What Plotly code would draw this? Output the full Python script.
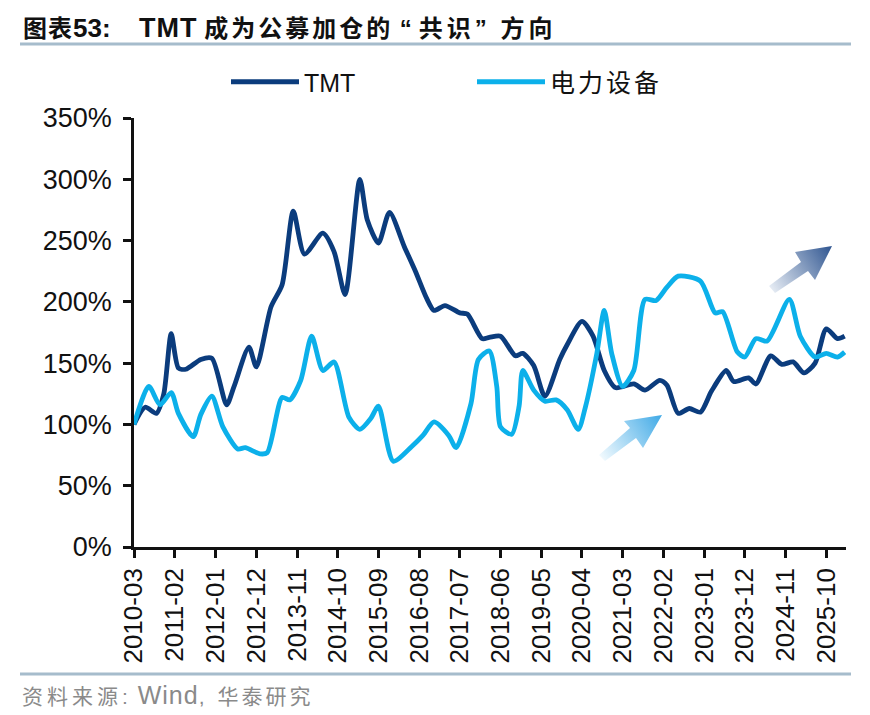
import base64
import plotly.graph_objects as go

# Relative fund holdings, indexed to 100% at 2010-03
tmt_dates = ["2010-03","2010-06","2010-09","2010-11","2011-01","2011-03","2011-05","2011-09","2011-12",
             "2012-04","2012-06","2012-10","2012-12","2013-04","2013-07","2013-10","2014-01","2014-06",
             "2014-09","2014-12","2015-04","2015-06","2015-09","2015-12","2016-04","2016-07","2016-10",
             "2016-12","2017-03","2017-07","2017-09","2018-01","2018-03","2018-06","2018-10","2018-12",
             "2019-03","2019-06","2019-10","2019-12","2020-04","2020-07","2020-10","2021-01","2021-06",
             "2021-09","2022-01","2022-03","2022-06","2022-09","2022-12","2023-03","2023-07","2023-09",
             "2024-01","2024-03","2024-07","2024-10","2025-01","2025-04","2025-07","2025-10","2026-01","2026-03"]
tmt_values = [100,114,109,125,174,146,145,153,154,
              116,131,163,147,196,214,274,239,256,
              241,206,300,267,248,273,245,225,203,
              193,197,191,190,170,171,172,156,158,
              148,123,153,165,184,172,144,130,133,
              128,136,132,109,113,110,127,144,135,
              138,133,156,149,151,142,150,178,170,172]

power_dates = ["2010-03","2010-07","2010-10","2011-01","2011-03","2011-07","2011-09","2011-12","2012-03",
               "2012-07","2012-09","2013-01","2013-03","2013-07","2013-09","2013-12","2014-03","2014-06",
               "2014-09","2015-01","2015-04","2015-07","2015-09","2016-01","2016-06","2016-09","2016-12",
               "2017-04","2017-06","2017-10","2017-12","2018-03","2018-05","2018-06","2018-09","2018-11",
               "2018-12","2019-03","2019-06","2019-09","2019-12","2020-03","2020-05","2020-08","2020-10",
               "2020-12","2021-03","2021-06","2021-09","2021-12","2022-03","2022-06","2022-12","2023-04",
               "2023-06","2023-10","2023-12","2024-03","2024-06","2024-12","2025-03","2025-07","2025-10","2026-01","2026-03"]
power_values = [100,131,116,126,109,90,108,123,98,
                80,81,76,77,122,120,136,172,144,
                151,106,96,105,115,70,82,91,102,
                91,81,117,153,160,131,98,92,115,
                144,128,119,120,112,96,115,158,193,
                158,131,144,202,201,212,221,217,191,
                192,159,155,170,168,202,172,155,158,155,159]

y_ticks = [0,50,100,150,200,250,300,350]

W, H = 870, 715
L, R, T, B = 134, 846, 118, 547
DARK, LIGHT = "#0b3c7d", "#0cb0ea"
CJK = "Noto Sans CJK SC"
SANS = "Liberation Sans"
FONT = f"{SANS}, {CJK}"


def paper_x(x):
    return (x - L) / (R - L)


def paper_y(y):
    return (B - y) / (B - T)


def spaced(text, gap, size=None):
    size_css = f";font-size:{size}px" if size else ""
    return f'<span style="letter-spacing:{gap}px{size_css}">{text}</span>'


def arrow(points, tip_color, tail_color, box):
    # Gradient arrow as an inline SVG; points[0] is the tip, points[3] the tail
    x0, y0, x1, y1 = box
    pts = " ".join(f"{x-x0},{y-y0}" for x, y in points)
    tip, tail = points[0], points[3]
    svg = (f'<svg xmlns="http://www.w3.org/2000/svg" width="{x1-x0}" height="{y1-y0}">'
           f'<defs><linearGradient id="g" gradientUnits="userSpaceOnUse" '
           f'x1="{tip[0]-x0}" y1="{tip[1]-y0}" x2="{tail[0]-x0}" y2="{tail[1]-y0}">'
           f'<stop offset="0" stop-color="{tip_color}"/><stop offset="1" stop-color="{tail_color}"/>'
           f'</linearGradient></defs><polygon points="{pts}" fill="url(#g)"/></svg>')
    uri = "data:image/svg+xml;base64," + base64.b64encode(svg.encode()).decode()
    return dict(source=uri, xref="paper", yref="paper", layer="below",
                x=paper_x(x0), y=paper_y(y0), sizex=(x1-x0)/(R-L), sizey=(y1-y0)/(B-T),
                xanchor="left", yanchor="top", sizing="stretch")


def label(x, y, text, size, color):
    return dict(xref="paper", yref="paper", x=paper_x(x), y=paper_y(y), text=text, showarrow=False,
                xanchor="left", yanchor="middle", font=dict(size=size, family=FONT, color=color))


light_arrow = [(662,415),(624,421),(630,428),(599,455),(605,461),(636,438),(643,448)]
dark_arrow = [(832,246),(795,252),(801,262),(769,286),(775,293),(808,271),(815,280)]

fig = go.Figure()
fig.add_trace(go.Scatter(x=tmt_dates, y=tmt_values, name="TMT", mode="lines",
                         line=dict(color=DARK, width=4.8, shape="spline", smoothing=0.7)))
fig.add_trace(go.Scatter(x=power_dates, y=power_values, name=spaced("电力设备", 3), mode="lines",
                         line=dict(color=LIGHT, width=4.8, shape="spline", smoothing=0.7)))

title_left = "<b>" + spaced("图表", 1) + spaced("53:", 0, 26) + "</b>"
title_right = ("<b>" + spaced("TMT", 1, 27) + " " + spaced("成为公募加仓的", 3) + " "
               + spaced("“", 7) + spaced("共识", 4) + spaced("”", 7) + " " + spaced("方向", 4) + "</b>")
footer = (spaced("资料来源:", 4, 21) + " " + spaced("Wind", 1, 25) + spaced(",", 13, 21)
          + spaced("华泰研究", 3, 21))

fig.update_layout(
    width=W, height=H, autosize=False,
    margin=dict(l=L, r=W-R, t=T, b=H-B),
    paper_bgcolor="white", plot_bgcolor="white",
    font=dict(family=FONT, color="#111111"),
    showlegend=True,
    legend=dict(orientation="h", x=paper_x(226), y=paper_y(59), xanchor="left", yanchor="top",
                itemwidth=68, entrywidth=163, entrywidthmode="pixels",
                font=dict(size=25, family=FONT), bgcolor="rgba(0,0,0,0)", traceorder="normal"),
    xaxis=dict(type="date", range=["2010-03-01","2026-03-12"], tick0="2010-03-01", dtick="M11",
               tickformat="%Y-%m", ticks="outside", ticklen=8, tickwidth=2.5, tickcolor="#111111",
               tickangle=-90, tickfont=dict(size=26), showline=True, linecolor="#111111", linewidth=2.5,
               showgrid=False, zeroline=False),
    yaxis=dict(range=[0,350], tickvals=y_ticks, ticktext=[f"{v}%" for v in y_ticks],
               ticks="outside", ticklen=8, tickwidth=2.5, tickcolor="#111111", ticklabelstandoff=6,
               tickfont=dict(size=27), showline=True, linecolor="#111111", linewidth=2.5,
               showgrid=False, zeroline=False),
    images=[arrow(light_arrow, "#3fa9e6", "#f2fafe", (595,410,666,465)),
            arrow(dark_arrow, "#2f5590", "#e6ecf4", (765,242,836,297))],
    shapes=[dict(type="line", xref="paper", yref="paper", x0=paper_x(20), x1=paper_x(851),
                 y0=paper_y(y), y1=paper_y(y), line=dict(color="#a6bccc", width=3))
            for y in (44, 674)],
    annotations=[
        label(21, 28, title_left, 24, "#111111"),
        label(137, 28, title_right, 24, "#111111"),
        label(20, 695, footer, 21, "#8a8a8a"),
    ],
)
fig.write_html("out.html", config={"displayModeBar": False})
